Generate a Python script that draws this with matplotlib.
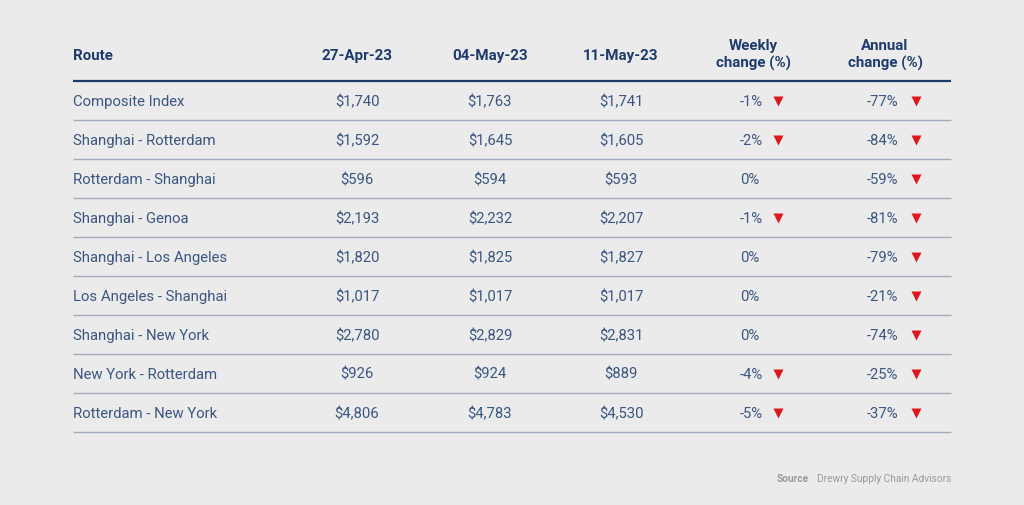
import matplotlib
matplotlib.use("Agg")
import matplotlib.pyplot as plt

routes = ["Composite Index", "Shanghai - Rotterdam", "Rotterdam - Shanghai",
          "Shanghai - Genoa", "Shanghai - Los Angeles", "Los Angeles - Shanghai",
          "Shanghai - New York", "New York - Rotterdam", "Rotterdam - New York"]
dates = ["27-Apr-23", "04-May-23", "11-May-23"]
rate_27apr = [1740, 1592, 596, 2193, 1820, 1017, 2780, 926, 4806]
rate_04may = [1763, 1645, 594, 2232, 1825, 1017, 2829, 924, 4783]
rate_11may = [1741, 1605, 593, 2207, 1827, 1017, 2831, 889, 4530]
weekly_change = [-1, -2, 0, -1, 0, 0, 0, -4, -5]
annual_change = [-77, -84, -59, -81, -79, -21, -74, -25, -37]

BG = "#ebebeb"
HEAD = "#1d3c6b"
BODY = "#3b5680"
LINE = "#a3acbb"
RED = "#e0161e"
FONT = ["Roboto", "DejaVu Sans"]

W, H = 1024, 506
fig = plt.figure(figsize=(W / 100, H / 100), dpi=100, facecolor=BG)
ax = fig.add_axes([0, 0, 1, 1])
ax.set_xlim(0, W)
ax.set_ylim(H, 0)
ax.axis("off")
ax.set_facecolor(BG)

x_left, x_right = 73, 951
col_x = [357, 490, 621]
wk_x, an_x = 740, 867
wk_head, an_head = 753, 885
head_y = 56
head_line = 82
row_h = 39

fs = 10.7
hfs = 10.9
ax.text(x_left, head_y, "Route", color=HEAD, fontsize=hfs, fontweight="bold",
        family=FONT, ha="left", va="center")
for x, d in zip(col_x, dates):
    ax.text(x, head_y, d, color=HEAD, fontsize=hfs, fontweight="bold",
            family=FONT, ha="center", va="center")
ax.text(wk_head, 55, "Weekly\nchange (%)", color=HEAD, fontsize=hfs, fontweight="bold",
        family=FONT, ha="center", va="center", linespacing=1.2)
ax.text(an_head, 55, "Annual\nchange (%)", color=HEAD, fontsize=hfs, fontweight="bold",
        family=FONT, ha="center", va="center", linespacing=1.2)
ax.plot([x_left, x_right], [head_line, head_line], color=HEAD, lw=1.6,
        solid_capstyle="butt")

series = [rate_27apr, rate_04may, rate_11may]
for i, r in enumerate(routes):
    yc = head_line + row_h * i + 20
    ax.text(x_left, yc, r, color=BODY, fontsize=fs, family=FONT, ha="left", va="center")
    for x, s in zip(col_x, series):
        ax.text(x, yc, f"${s[i]:,}", color=BODY, fontsize=fs, family=FONT,
                ha="center", va="center")
    ax.text(wk_x, yc, f"{weekly_change[i]}%", color=BODY, fontsize=fs,
            family=FONT, ha="left", va="center")
    if weekly_change[i] < 0:
        ax.plot([wk_x + 38], [yc], marker="v", color=RED, markersize=7, mec="none")
    ax.text(an_x, yc, f"{annual_change[i]}%", color=BODY, fontsize=fs,
            family=FONT, ha="left", va="center")
    if annual_change[i] < 0:
        ax.plot([an_x + 49], [yc], marker="v", color=RED, markersize=7, mec="none")
    ly = head_line + row_h * (i + 1)
    ax.plot([x_left, x_right], [ly, ly], color=LINE, lw=1.0, solid_capstyle="butt")

ax.text(809, 479, "Source", color="#9a9a9a", fontsize=7.3, fontweight="bold",
        family=FONT, ha="right", va="center")
ax.text(951, 479, "Drewry Supply Chain Advisors", color="#9a9a9a", fontsize=7.3,
        family=FONT, ha="right", va="center")

fig.savefig("out.png", dpi=100, facecolor=BG)
